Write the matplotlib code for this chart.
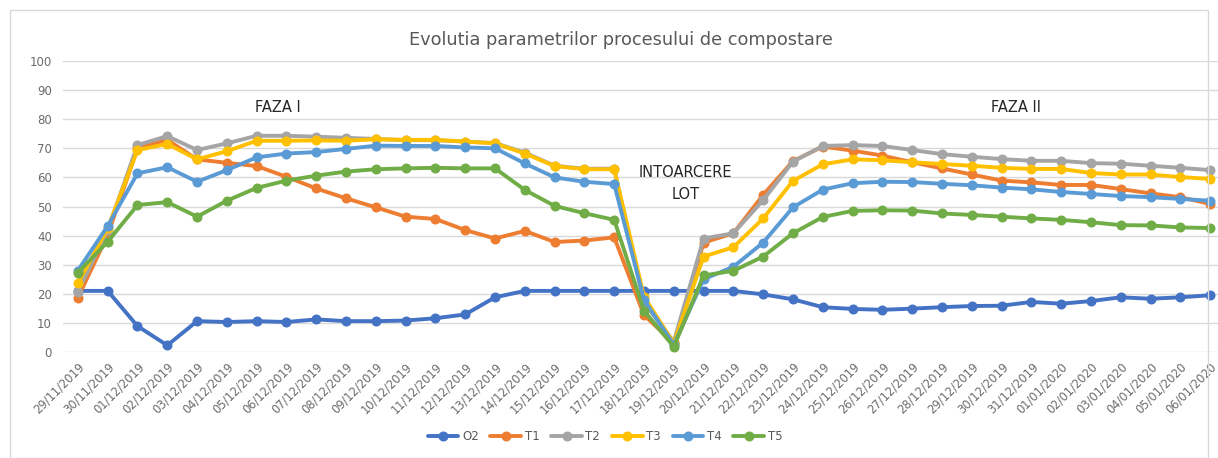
import matplotlib
matplotlib.use("Agg")
import matplotlib.pyplot as plt
from matplotlib.patches import Rectangle

dates = ["29/11/2019", "30/11/2019", "01/12/2019", "02/12/2019", "03/12/2019", "04/12/2019",
         "05/12/2019", "06/12/2019", "07/12/2019", "08/12/2019", "09/12/2019", "10/12/2019",
         "11/12/2019", "12/12/2019", "13/12/2019", "14/12/2019", "15/12/2019", "16/12/2019",
         "17/12/2019", "18/12/2019", "19/12/2019", "20/12/2019", "21/12/2019", "22/12/2019",
         "23/12/2019", "24/12/2019", "25/12/2019", "26/12/2019", "27/12/2019", "28/12/2019",
         "29/12/2019", "30/12/2019", "31/12/2019", "01/01/2020", "02/01/2020", "03/01/2020",
         "04/01/2020", "05/01/2020", "06/01/2020"]

O2 = [21, 21, 8.9, 2.3, 10.6, 10.3, 10.6, 10.3, 11.2, 10.6, 10.6, 10.8, 11.6, 12.9, 18.8,
      21, 21, 21, 21, 21, 21, 21, 21, 19.8, 18.1, 15.4, 14.8, 14.5, 14.9, 15.4, 15.8, 15.9,
      17.2, 16.6, 17.5, 18.8, 18.3, 18.8, 19.5]
T1 = [18.7, 40.2, 70, 72.9, 66.2, 65, 63.9, 60.2, 56.2, 52.8, 49.7, 46.5, 45.7, 41.9, 39,
      41.6, 37.8, 38.3, 39.4, 12.7, 3, 37.6, 40.8, 54, 65.6, 70.6, 69.2, 67.5, 65.2, 63.1,
      61, 58.9, 58.3, 57.4, 57.4, 56, 54.5, 53.2, 50.9]
T2 = [20.7, 41.9, 71.1, 74.2, 69.4, 71.7, 74.3, 74.3, 74, 73.6, 73.2, 72.8, 72.8, 72.3, 71.8,
      68.5, 64, 63, 63, 17, 3.5, 39, 40.8, 52.2, 65.4, 70.8, 71.1, 70.8, 69.4, 68, 67.1,
      66.3, 65.7, 65.7, 64.9, 64.7, 64, 63.3, 62.5]
T3 = [23.6, 42.5, 69.4, 71.5, 66.2, 69, 72.6, 72.6, 72.7, 72.6, 73.1, 72.9, 72.9, 72.3, 71.7,
      68.2, 63.9, 62.8, 62.8, 19, 3, 32.8, 36, 45.9, 58.8, 64.5, 66.2, 65.9, 65.2, 64.6, 64,
      63.3, 62.9, 62.9, 61.5, 61, 61, 60.1, 59.5]
T4 = [28, 43.3, 61.4, 63.5, 58.5, 62.5, 66.9, 68.2, 68.7, 69.8, 70.9, 70.8, 70.8, 70.3, 70,
      64.8, 60, 58.5, 57.7, 17.9, 2.5, 25, 29.3, 37.6, 49.7, 55.8, 58, 58.5, 58.4, 57.8,
      57.3, 56.5, 55.9, 55, 54.3, 53.6, 53.2, 52.6, 52]
T5 = [27.3, 37.9, 50.5, 51.5, 46.5, 52, 56.4, 58.9, 60.6, 62, 62.8, 63.1, 63.3, 63.1, 63.1,
      55.7, 50.2, 47.7, 45.4, 14.2, 1.8, 26.3, 27.9, 32.8, 40.8, 46.4, 48.5, 48.7, 48.6,
      47.6, 47.1, 46.5, 45.9, 45.4, 44.6, 43.6, 43.5, 42.8, 42.6]

series = [("O2", O2, "#4472C4"), ("T1", T1, "#ED7D31"), ("T2", T2, "#A5A5A5"),
          ("T3", T3, "#FFC000"), ("T4", T4, "#5B9BD5"), ("T5", T5, "#70AD47")]

title = "Evolutia parametrilor procesului de compostare"
annotations = [("FAZA I", 6.7, 84), ("INTOARCERE\nLOT", 20.4, 58), ("FAZA II", 31.5, 84)]

W, H = 1218, 458
fig = plt.figure(figsize=(W / 100, H / 100), dpi=100)
fig.patches.append(Rectangle((10 / W, 0.0), (W - 20) / W, (H - 10) / H, transform=fig.transFigure,
                             fill=False, edgecolor="#d9d9d9", linewidth=1))

left, right, top, bottom = 63, 1225, 61, 352
ax = fig.add_axes([left / W, 1 - bottom / H, (right - left) / W, (bottom - top) / H])

x = list(range(len(dates)))
for name, vals, col in series:
    ax.plot(x, vals, color=col, linewidth=2.8, marker="o", markersize=6.2, label=name,
            solid_capstyle="round")

ax.set_xlim(-0.5, len(dates) - 0.5)
ax.set_ylim(0, 100)
ax.set_yticks(range(0, 101, 10))
ax.grid(axis="y", color="#d9d9d9", linewidth=1)
ax.set_axisbelow(True)
for s in ax.spines.values():
    s.set_visible(False)
ax.tick_params(axis="both", length=0, colors="#6b6b6b", labelsize=8.5)
ax.tick_params(axis="y", pad=8)
ax.tick_params(axis="x", pad=6)
ax.set_xticks(x)
ax.set_xticklabels(dates, rotation=45, ha="right", rotation_mode="anchor", fontsize=8.3)

for txt, xi, yi in annotations:
    ax.text(xi, yi, txt, ha="center", va="center", fontsize=10.5, color="#262626", linespacing=1.6)

fig.text(621 / W, 1 - 40 / H, title, ha="center", va="center", fontsize=12.8, color="#595959")

fig.legend(loc="center", bbox_to_anchor=(605 / W, 1 - 437 / H), ncol=6, frameon=False,
           fontsize=8.5, handlelength=2.6, columnspacing=1.0, handletextpad=0.3,
           labelcolor="#595959")

fig.savefig("out.png", dpi=100)
